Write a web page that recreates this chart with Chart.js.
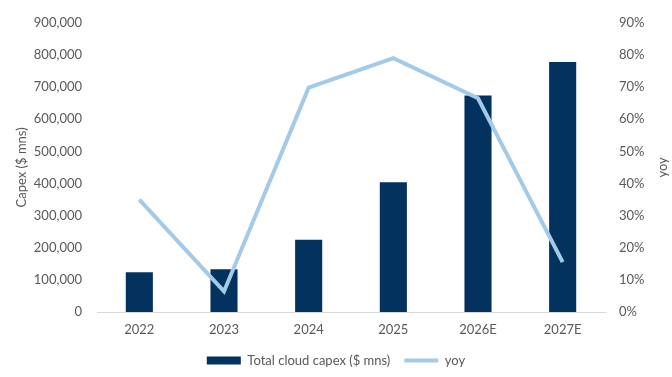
<!DOCTYPE html>
<html>
<head>
<meta charset="utf-8">
<script src="https://cdn.jsdelivr.net/npm/chart.js@4"></script>
<style>
  html, body { margin: 0; padding: 0; background: #fff; }
  #wrap { width: 672px; height: 377px; position: relative; }
</style>
</head>
<body>
<div id="wrap"><canvas id="myChart"></canvas></div>
<script>
// dados
const anos = ['2022', '2023', '2024', '2025', '2026E', '2027E'];
const capex = [124000, 133000, 225000, 404000, 674000, 778000];
const yoy = [35.0, 6.4, 69.8, 79.0, 66.5, 15.5];

const corTexto = '#595959';
const fonte = { family: 'Lato', size: 13 };

const ctx = document.getElementById('myChart');

// título do eixo direito escrito de baixo para cima, como no Excel
const tituloDireito = {
    id: 'tituloDireito',
    afterDraw(chart) {
        const c = chart.ctx;
        const area = chart.chartArea;
        const escala = chart.scales.y1;
        c.save();
        c.translate(escala.right - 9, (area.top + area.bottom) / 2);
        c.rotate(-Math.PI / 2);
        c.fillStyle = corTexto;
        c.font = '13px Lato';
        c.textAlign = 'center';
        c.textBaseline = 'middle';
        c.fillText('yoy', 0, 0);
        c.restore();
    }
};

new Chart(ctx, {
    type: 'bar',
    data: {
        labels: anos,
        datasets: [{
            type: 'bar',
            label: 'Total cloud capex ($ mns)',
            data: capex,
            backgroundColor: '#03325e',
            borderWidth: 0,
            yAxisID: 'y',
            categoryPercentage: 1,
            barPercentage: 0.32,
            order: 1
        }, {
            type: 'line',
            label: 'yoy',
            data: yoy,
            borderColor: '#a3cbe9',
            backgroundColor: '#a3cbe9',
            borderWidth: 4,
            pointRadius: 0,
            tension: 0,
            yAxisID: 'y1',
            order: 0
        }]
    },
    options: {
        responsive: true,
        maintainAspectRatio: false,
        animation: false,
        layout: {
            padding: { top: 13, bottom: 0, left: 0, right: 0 }
        },
        scales: {
            x: {
                grid: { display: false, drawTicks: false },
                border: { display: true, color: '#d9d9d9', width: 1 },
                ticks: { color: corTexto, font: fonte, padding: 10 },
                afterFit: (scale) => { scale.height = 28; }
            },
            y: {
                position: 'left',
                min: 0,
                max: 900000,
                grid: { display: false, drawTicks: false },
                border: { display: false },
                ticks: {
                    stepSize: 100000,
                    color: corTexto,
                    font: fonte,
                    padding: 15,
                    callback: (v) => v.toLocaleString('en-US')
                },
                title: {
                    display: true,
                    text: 'Capex ($ mns)',
                    color: corTexto,
                    font: fonte,
                    padding: { top: 14, bottom: 0 }
                },
                afterFit: (scale) => { scale.width = 97; }
            },
            y1: {
                position: 'right',
                min: 0,
                max: 90,
                grid: { display: false, drawTicks: false },
                border: { display: false },
                ticks: {
                    stepSize: 10,
                    color: corTexto,
                    font: fonte,
                    padding: 14,
                    callback: (v) => v + '%'
                },
                afterFit: (scale) => { scale.width = 67; }
            }
        },
        plugins: {
            legend: {
                position: 'bottom',
                labels: {
                    color: corTexto,
                    font: fonte,
                    usePointStyle: true,
                    pointStyleWidth: 34,
                    boxHeight: 8,
                    padding: 14,
                    sort: (a, b) => a.datasetIndex - b.datasetIndex,
                    generateLabels: (chart) => {
                        const itens = Chart.defaults.plugins.legend.labels.generateLabels(chart);
                        itens.forEach((item) => {
                            item.pointStyle = item.datasetIndex === 0 ? 'rect' : 'line';
                        });
                        return itens;
                    }
                }
            },
            tooltip: { enabled: false }
        }
    },
    plugins: [tituloDireito]
});
</script>
</body>
</html>
